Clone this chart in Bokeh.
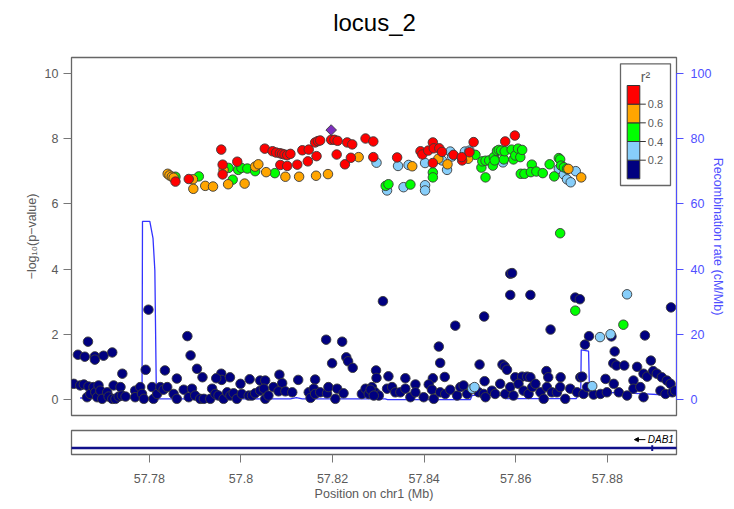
import math
from bokeh.plotting import figure
from bokeh.models import (Range1d, LinearAxis, FixedTicker, CustomJSTickFormatter, Arrow, NormalHead)
from bokeh.layouts import column
from bokeh.embed import file_html
from bokeh.resources import INLINE
from bokeh.core.properties import value

FONT = "Liberation Sans"

# ---------------- data ----------------
title_text = "locus_2"
chrom = "chr1"

# navy: r2 < 0.2
navy_pos = [
    57.7644, 57.7659, 57.7666, 57.7681, 57.7681, 57.7700, 57.7719, 57.7741, 57.7798, 57.7792,
    57.7834, 57.7883, 57.7890, 57.7904, 57.7916, 57.7860, 57.7957, 57.7958, 57.7946, 57.7976,
    57.7999, 57.8019, 57.8042, 57.8053, 57.8084, 57.8090, 57.8125, 57.8162, 57.8186, 57.8199,
    57.8221, 57.8230, 57.8234, 57.8244, 57.8295, 57.8296, 57.8310,
    57.8322, 57.8359, 57.8381, 57.8432, 57.8435, 57.8445, 57.8419, 57.8468, 57.8521, 57.8531,
    57.8532, 57.8571, 57.8576, 57.8581, 57.8588, 57.8592, 57.8588, 57.8632, 57.8599, 57.8614,
    57.8625, 57.8632, 57.8667, 57.8671, 57.8676, 57.8698, 57.8730, 57.8740, 57.8751, 57.8760,
    57.8809, 57.8816, 57.8813, 57.8820, 57.8837, 57.8882, 57.8865, 57.8895, 57.8879, 57.8887,
    57.8939, 57.8741, 57.8745, 57.8796, 57.8857, 57.8900, 57.8908, 57.8919, 57.8930, 57.8938,
    57.7635, 57.7649, 57.7657, 57.7664, 57.7667, 57.7671, 57.7678, 57.7682, 57.7686, 57.7689,
    57.7693, 57.7697, 57.7708, 57.7711, 57.7719, 57.7722, 57.7726, 57.7733, 57.7737, 57.7740,
    57.7748, 57.7769, 57.7769, 57.7780, 57.7784, 57.7788, 57.7806, 57.7809, 57.7817, 57.7824,
    57.7831, 57.7839, 57.7853, 57.7860, 57.7875, 57.7886, 57.7893, 57.7900, 57.7911, 57.7919,
    57.7933, 57.7937, 57.7944, 57.7951, 57.7962, 57.7970, 57.7977, 57.7984, 57.7991, 57.8002,
    57.8017, 57.8024, 57.8031, 57.8042, 57.8050, 57.8053, 57.8060, 57.8071, 57.8082, 57.8097,
    57.8112, 57.8148, 57.8152, 57.8159, 57.8162, 57.8173, 57.8188, 57.8191, 57.8206, 57.8210,
    57.8224, 57.8264, 57.8272, 57.8279, 57.8286, 57.8293, 57.8301,
    57.8283, 57.8290, 57.8319, 57.8330, 57.8337, 57.8348, 57.8359, 57.8370, 57.8381, 57.8399,
    57.8410, 57.8417, 57.8421, 57.8435, 57.8446, 57.8457, 57.8472, 57.8479, 57.8486, 57.8494,
    57.8519, 57.8530, 57.8534, 57.8548, 57.8555, 57.8566, 57.8577, 57.8588, 57.8595, 57.8606,
    57.8617, 57.8628, 57.8636, 57.8643, 57.8654, 57.8661, 57.8668, 57.8679, 57.8690, 57.8697,
    57.8708, 57.8719, 57.8734, 57.8748, 57.8756, 57.8770, 57.8785, 57.8799, 57.8814, 57.8825,
    57.8843, 57.8857, 57.8872, 57.8879, 57.8916, 57.8927, 57.8942, 57.8948,
]
navy_logp = [
    1.38, 1.32, 1.78, 1.33, 1.23, 1.35, 1.45, 0.80, 2.76, 0.92,
    0.90, 1.95, 1.36, 0.95, 0.69, 0.65, 0.80, 0.61, 0.66, 0.69,
    0.49, 0.63, 0.59, 0.59, 0.77, 0.51, 0.61, 0.62, 1.84, 1.12,
    1.78, 1.30, 1.18, 0.98, 0.90, 0.67, 3.02,
    0.72, 0.66, 0.47, 1.63, 1.13, 0.70, 0.66, 2.27, 1.08, 2.55,
    0.57, 1.08, 1.02, 0.92, 3.86, 3.88, 3.21, 3.21, 0.69, 0.71,
    0.71, 0.69, 0.88, 0.69, 2.15, 0.69, 3.13, 3.08, 1.69, 1.95,
    1.94, 1.48, 1.12, 1.05, 1.05, 1.97, 1.01, 1.20, 0.80, 0.71,
    2.83, 0.69, 0.71, 0.64, 0.59, 0.88, 0.80, 0.69, 0.59, 0.49,
    0.49, 0.44, 0.47, 0.08, 0.41, 0.18, 0.39, 0.23, 0.08, 0.44,
    0.28, 0.03, 0.23, 0.10, 0.03, 0.44, 0.03, 0.10, 0.39, 0.13,
    0.10, 0.28, 0.08, 0.39, 0.18, 0.03, 0.39, 0.03, 0.18, 0.39,
    0.31, 0.39, 0.18, 0.03, 0.31, 0.08, 0.34, 0.13, 0.03, 0.03,
    0.03, 0.34, 0.18, 0.13, 0.03, 0.23, 0.13, 0.20, 0.03, 0.18,
    0.13, 0.13, 0.20, 0.28, 0.34, 0.03, 0.13, 0.39, 0.26, 0.26,
    0.23, 0.23, 0.06, 0.34, 0.18, 0.23, 0.20, 0.39, 0.03, 0.34,
    0.20, 0.18, 0.34, 0.18, 0.39, 0.23, 0.13,
    0.31, 0.13, 0.34, 0.39, 0.23, 0.23, 0.34, 0.08, 0.23, 0.08,
    0.47, 0.31, 0.03, 0.23, 0.18, 0.31, 0.13, 0.39, 0.44, 0.18,
    0.23, 0.18, 0.08, 0.28, 0.18, 0.49, 0.18, 0.39, 0.13, 0.49,
    0.28, 0.18, 0.39, 0.49, 0.23, 0.03, 0.39, 0.23, 0.23, 0.39,
    0.03, 0.34, 0.23, 0.18, 0.39, 0.16, 0.18, 0.23, 0.49, 0.23,
    0.13, 0.34, 0.39, 0.08, 0.28, 0.18, 0.23, 0.28,
]

# light blue: 0.2 - 0.4
lblue_pos = [
    57.8296, 57.8343, 57.8319, 57.8355, 57.8366, 57.8402, 57.8402, 57.8402, 57.8450, 57.8439,
    57.8457, 57.8461, 57.8489, 57.8499, 57.8572, 57.8694, 57.8705, 57.8712, 57.8720, 57.8731,
    57.8784, 57.8807, 57.8843, 57.8767, 57.8505, 57.8510,
]
lblue_logp = [
    7.26, 7.16, 6.41, 6.51, 7.19, 6.57, 6.41, 7.25, 7.04, 7.33,
    7.60, 7.45, 7.60, 7.63, 7.27, 7.07, 6.90, 6.75, 6.66, 7.00,
    1.92, 2.01, 3.23, 0.42, 0.34, 0.39,
]

# green: 0.4 - 0.6
green_pos = [
    57.7857, 57.7908, 57.7973, 57.7982, 57.7994, 57.8001, 57.8014, 57.8031, 57.8074, 57.8316,
    57.8322, 57.8370, 57.8419, 57.8419, 57.8512, 57.8525, 57.8527, 57.8534, 57.8542, 57.8550,
    57.8552, 57.8554, 57.8559, 57.8563, 57.8568, 57.8574, 57.8576, 57.8591, 57.8595, 57.8599,
    57.8605, 57.8610, 57.8614, 57.8534, 57.8611, 57.8619, 57.8635, 57.8633, 57.8645, 57.8659,
    57.8674, 57.8684, 57.8694, 57.8697, 57.8699, 57.8705, 57.8712, 57.8697, 57.8730, 57.8835,
]
green_logp = [
    6.83, 6.84, 7.10, 6.74, 7.04, 7.10, 7.08, 7.00, 6.94, 6.55,
    6.60, 6.59, 6.96, 6.81, 7.50, 7.11, 7.30, 7.32, 7.33, 7.17,
    7.43, 7.33, 7.62, 7.65, 7.63, 7.36, 7.61, 7.66, 7.36, 7.48,
    7.69, 7.43, 7.65, 6.81, 6.92, 6.92, 7.20, 6.97, 6.99, 6.94,
    7.21, 6.84, 7.40, 7.36, 7.17, 7.12, 7.07, 5.10, 2.73, 2.30,
]

# orange: 0.6 - 0.8
orange_pos = [
    57.7840, 57.7844, 57.7849, 57.7853, 57.7895, 57.7896, 57.7922, 57.7939, 57.7962, 57.7972,
    57.8008, 57.8031, 57.8038, 57.8055, 57.8097, 57.8127, 57.8164, 57.8190, 57.8257, 57.8374,
    57.8431, 57.8451, 57.8496, 57.8715, 57.8743,
]
orange_logp = [
    6.92, 6.87, 6.83, 6.80, 6.75, 6.46, 6.55, 6.53, 7.04, 6.60,
    6.62, 7.14, 7.21, 6.97, 6.83, 6.83, 6.86, 6.91, 7.43, 7.15,
    7.38, 7.21, 7.38, 7.07, 6.81,
]

# red: r2 >= 0.8
red_pos = [
    57.7857, 57.7886, 57.7957, 57.7960, 57.7960, 57.7992, 57.8052, 57.8069, 57.8077, 57.8085,
    57.8090, 57.8095, 57.8101, 57.8108, 57.8086, 57.8101, 57.8123, 57.8134, 57.8148, 57.8146,
    57.8165, 57.8162, 57.8168, 57.8173, 57.8197, 57.8204, 57.8211, 57.8209, 57.8227, 57.8232,
    57.8243, 57.8240, 57.8272, 57.8289, 57.8289, 57.8341, 57.8392, 57.8396, 57.8409, 57.8419,
    57.8421, 57.8433, 57.8439, 57.8419, 57.8464, 57.8483, 57.8482, 57.8499, 57.8508, 57.8577,
    57.8598,
]
red_logp = [
    6.68, 6.76, 7.66, 7.20, 6.90, 7.29, 7.69, 7.61, 7.57, 7.55,
    7.53, 7.51, 7.49, 7.53, 7.19, 7.16, 7.20, 7.64, 7.66, 7.30,
    7.46, 7.88, 7.92, 7.94, 7.96, 7.96, 7.93, 7.51, 7.21, 7.88,
    7.82, 7.41, 8.00, 7.91, 7.43, 7.42, 7.61, 7.51, 7.63, 7.88,
    7.70, 7.70, 7.59, 7.25, 7.50, 7.33, 7.43, 7.58, 7.89, 7.91,
    8.09,
]

# lead SNP
lead_pos = [57.8197]
lead_logp = [8.26]

# recombination rate (cM/Mb)
recomb_pos = [57.7649, 57.7784, 57.7785, 57.7801, 57.7808, 57.7812, 57.7815, 57.7817,
              57.8108, 57.8121, 57.8134, 57.8315, 57.8320, 57.8501, 57.8505, 57.8573,
              57.8577, 57.8732, 57.8742, 57.8743, 57.8759, 57.8761, 57.8850, 57.8951]
recomb_rate = [0.55, 0.55, 54.6, 54.6, 49.4, 39.6, 5.0, 0.31,
               0.31, 0.70, 0.31, 0.31, 0.09, 0.09, 1.38, 1.38,
               0.34, 0.34, 2.85, 15.3, 14.9, 2.39, 2.08, 1.32]

# gene track
gene_name = "DAB1"
gene_start = 57.4636
gene_end = 58.7169
exon_pos = [57.8898]

# axes
x_min, x_max = 57.7630, 57.8951
y_min, y_max = -0.48, 10.48
logp_ticks = [0, 2, 4, 6, 8, 10]
recomb_ticks = [0, 20, 40, 60, 80, 100]
pos_ticks = [57.78, 57.80, 57.82, 57.84, 57.86, 57.88]
pos_tick_labels = ["57.78", "57.8", "57.82", "57.84", "57.86", "57.88"]
r2_breaks = [0.2, 0.4, 0.6, 0.8]
r2_labels = ["0.2", "0.4", "0.6", "0.8"]

# ---------------- styles ----------------
NAVY, LBLUE, GREEN, ORANGE, RED, LEAD = "#000080", "#87CEFA", "#00FF00", "#FFA500", "#FF0000", "#7D2EBE"
r2_colors = [NAVY, LBLUE, GREEN, ORANGE, RED]
OUTLINE = "#3a3a3a"
AX_GRAY = "#5a5a5a"
TICK_GRAY = "#777777"
BOX_GRAY = "#666666"
BLUE_AX = "#4f4fff"
RECOMB_COL = "#3333ff"

FW, FH = 605, 358   # frame size in px
LEFT = 71           # left border (px)
TITLE_H = 40        # height of the title strip (px)

# ---------------- title strip (frame aligned with the plot frame) ----------------
t = figure(frame_width=FW, frame_height=TITLE_H,
           min_border_left=LEFT, min_border_right=50, min_border_top=0, min_border_bottom=0,
           x_range=Range1d(0, FW), y_range=Range1d(0, TITLE_H),
           x_axis_location=None, y_axis_location=None,
           output_backend="svg", toolbar_location=None, tools="")
t.grid.visible = False
t.outline_line_color = None
t.text(x=[FW / 2 + 0.5], y=[TITLE_H - 21.5], text=[title_text], text_font=value(FONT),
       text_font_size="24px", text_color="black", text_align="center", text_baseline="middle")

# ---------------- main panel ----------------
p = figure(frame_width=FW, frame_height=FH,
           min_border_left=LEFT, min_border_right=50, min_border_top=57 - TITLE_H, min_border_bottom=8,
           x_range=Range1d(x_min, x_max), y_range=Range1d(y_min, y_max),
           x_axis_location=None, output_backend="svg", toolbar_location=None, tools="")
p.grid.visible = False
p.outline_line_color = BOX_GRAY
p.outline_line_width = 1.3
p.background_fill_color = "white"
p.border_fill_color = "white"

yax = p.yaxis[0]
yax.ticker = FixedTicker(ticks=logp_ticks)
yax.bounds = (0, 10)
yax.axis_label = "\u2212log\u2081\u2080(p\u2212value)"
yax.axis_label_text_font = FONT
yax.axis_label_text_font_size = "12.5px"
yax.axis_label_text_font_style = "normal"
yax.axis_label_text_color = AX_GRAY
yax.axis_label_standoff = 3
yax.major_label_text_font = FONT
yax.major_label_text_font_size = "12.5px"
yax.major_label_text_color = AX_GRAY
yax.major_label_standoff = 5
yax.major_tick_out = 8
yax.major_tick_in = 0
yax.major_tick_line_color = TICK_GRAY
yax.minor_tick_line_color = None
yax.axis_line_color = None

p.extra_y_ranges = {"recomb": Range1d(y_min * 10, y_max * 10)}
rax = LinearAxis(y_range_name="recomb", ticker=FixedTicker(ticks=recomb_ticks))
rax.bounds = (0, 100)
rax.axis_label = "Recombination rate (cM/Mb)"
rax.axis_label_text_font = FONT
rax.axis_label_text_font_size = "12.5px"
rax.axis_label_text_font_style = "normal"
rax.axis_label_text_color = BLUE_AX
rax.axis_label_standoff = -3
rax.major_label_text_font = FONT
rax.major_label_text_font_size = "12.5px"
rax.major_label_text_color = BLUE_AX
rax.major_label_standoff = 7
rax.major_tick_out = 7
rax.major_tick_in = 0
rax.major_tick_line_color = BLUE_AX
rax.minor_tick_line_color = None
rax.axis_line_color = BLUE_AX
p.add_layout(rax, "right")

p.line(recomb_pos, recomb_rate, y_range_name="recomb", line_color=RECOMB_COL, line_width=1.3)

for xs, ys, col in [(navy_pos, navy_logp, NAVY), (lblue_pos, lblue_logp, LBLUE),
                    (green_pos, green_logp, GREEN), (orange_pos, orange_logp, ORANGE),
                    (red_pos, red_logp, RED)]:
    p.scatter(xs, ys, size=9.5, fill_color=col, line_color=OUTLINE, line_width=0.9)
p.scatter(lead_pos, lead_logp, marker="square", angle=math.pi / 4, size=7.5,
          fill_color=LEAD, line_color=OUTLINE, line_width=0.9)

# ---- r2 legend (placed by pixel offsets inside the frame) ----
def fx(px):  # px from frame left
    return x_min + px / FW * (x_max - x_min)

def fy(py):  # py from frame top
    return y_max - py / FH * (y_max - y_min)

box_l, box_r, box_t, box_b = 549, 599, 6.3, 128
cell_l, cell_r, cell_t, cell_h = 555.7, 568.3, 28, 18.67
p.quad(left=[fx(box_l)], right=[fx(box_r)], top=[fy(box_t)], bottom=[fy(box_b)],
       fill_color="white", line_color=BOX_GRAY, line_width=1.3)
n = len(r2_colors)
p.quad(left=[fx(cell_l)] * n, right=[fx(cell_r)] * n,
       top=[fy(cell_t + (n - 1 - i) * cell_h) for i in range(n)],
       bottom=[fy(cell_t + (n - i) * cell_h) for i in range(n)],
       fill_color=r2_colors, line_color="#333333", line_width=1)
tick_y = [fy(cell_t + (n - 1 - i) * cell_h) for i in range(len(r2_breaks))]
p.segment(x0=[fx(cell_r)] * len(tick_y), y0=tick_y, x1=[fx(cell_r + 6)] * len(tick_y), y1=tick_y,
          line_color="#333333", line_width=1)
p.text(x=[fx(cell_r + 8)] * len(tick_y), y=tick_y, text=r2_labels, text_font=value(FONT),
       text_font_size="11px", text_color=AX_GRAY, text_align="left", text_baseline="middle")
p.text(x=[fx(574)], y=[fy(19)], text=["r\u00b2"], text_font=value(FONT),
       text_font_size="14px", text_color=AX_GRAY, text_align="center", text_baseline="middle")

# ---------------- gene panel ----------------
g = figure(frame_width=FW, frame_height=24,
           min_border_left=LEFT, min_border_right=50, min_border_top=7, min_border_bottom=40,
           x_range=p.x_range, y_range=Range1d(0, 1),
           y_axis_location=None, output_backend="svg", toolbar_location=None, tools="")
g.grid.visible = False
g.outline_line_color = BOX_GRAY
g.outline_line_width = 1.3

GENE_COL = "#10108a"
g.segment(x0=[gene_start], y0=[0.27], x1=[gene_end], y1=[0.27], line_color=GENE_COL, line_width=2.5)
g.segment(x0=exon_pos, y0=[0.15] * len(exon_pos), x1=exon_pos, y1=[0.39] * len(exon_pos),
          line_color=GENE_COL, line_width=2)
px_w = (x_max - x_min) / FW
label_x = min(gene_end, x_max) - 2.6 * px_w
g.text(x=[label_x], y=[0.62], text=[gene_name], text_font=value(FONT), text_font_style="italic",
       text_font_size="10px", text_align="right", text_baseline="middle", text_color="black")
g.add_layout(Arrow(end=NormalHead(size=4, fill_color="black", line_color="black"),
                   x_start=label_x - 28.5 * px_w, y_start=0.62,
                   x_end=label_x - 39.5 * px_w, y_end=0.62,
                   line_color="black", line_width=1))

xax = g.xaxis[0]
xax.ticker = FixedTicker(ticks=pos_ticks)
xax.formatter = CustomJSTickFormatter(args=dict(v=pos_ticks, l=pos_tick_labels),
    code="for (let i = 0; i < v.length; i++) { if (Math.abs(v[i] - tick) < 1e-9) return l[i]; } return '';")
xax.axis_label = "Position on " + chrom + " (Mb)"
xax.axis_label_text_font = FONT
xax.axis_label_text_font_size = "12.5px"
xax.axis_label_text_font_style = "normal"
xax.axis_label_text_color = AX_GRAY
xax.axis_label_standoff = 1
xax.major_label_text_font = FONT
xax.major_label_text_font_size = "12.5px"
xax.major_label_text_color = AX_GRAY
xax.major_label_standoff = 11
xax.major_tick_out = 8
xax.major_tick_in = 0
xax.major_tick_line_color = TICK_GRAY
xax.minor_tick_line_color = None
xax.axis_line_color = None

layout = column(t, p, g, spacing=0)
open("out.html", "w").write(file_html(layout, INLINE))
